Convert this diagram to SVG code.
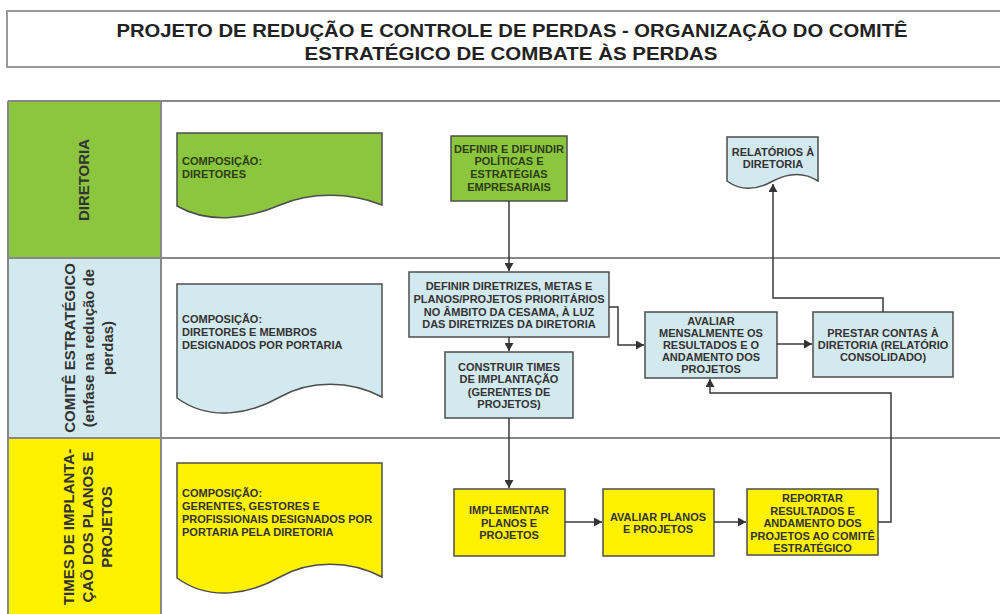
<svg xmlns="http://www.w3.org/2000/svg" width="1000" height="614" viewBox="0 0 1000 614">
<defs>
<marker id="arr" markerWidth="9" markerHeight="9" refX="8" refY="4.5" orient="auto" markerUnits="userSpaceOnUse">
<path d="M0,0 L8,4.5 L0,9 Z" fill="#333"/>
</marker>
<style>
.title{font-family:"Liberation Sans",Arial,sans-serif;font-weight:bold;font-size:19px;fill:#222;text-anchor:middle}
.lane{font-family:"Liberation Sans",Arial,sans-serif;font-weight:bold;font-size:15px;fill:#333;text-anchor:middle}
.grid{stroke:#888;stroke-width:2;fill:none}
.box{stroke:#4d4d4d;stroke-width:1.5}
.green{fill:#8cc63f}
.blue{fill:#d3e9f0}
.yellow{fill:#fff200}
.t{font-family:"Liberation Sans",Arial,sans-serif;font-weight:bold;font-size:11px;fill:#333;text-anchor:middle}
.tl{font-family:"Liberation Sans",Arial,sans-serif;font-weight:bold;font-size:11px;fill:#333}
.tg{fill:#2e3d18}
.conn{stroke:#383838;stroke-width:1.5;fill:none}
</style>
</defs>
<rect width="1000" height="614" fill="#fff"/>

<g id="title">
<rect x="7" y="11" width="1000" height="56" fill="#fff" stroke="#999" stroke-width="2"/>
<text class="title" x="512" y="37" textLength="791" lengthAdjust="spacingAndGlyphs">PROJETO DE REDUÇÃO E CONTROLE DE PERDAS - ORGANIZAÇÃO DO COMITÊ</text>
<text class="title" x="511" y="60" textLength="413" lengthAdjust="spacingAndGlyphs">ESTRATÉGICO DE COMBATE ÀS PERDAS</text>
</g>

<g id="lanes">
<rect x="8" y="101" width="153" height="157" class="green"/>
<rect x="8" y="258" width="153" height="180" class="blue"/>
<rect x="8" y="438" width="153" height="180" class="yellow"/>
<path class="grid" d="M8,101 H1000 M8,258 H1000 M8,438 H1000 M8,101 V614 M161,101 V614"/>
</g>

<g id="lane-diretoria">
<text class="lane" transform="translate(89,180) rotate(-90)">DIRETORIA</text>
</g>
<g id="lane-comite">
<text class="lane" transform="translate(75,348) rotate(-90)">COMITÊ ESTRATÉGICO</text>
<text class="lane" transform="translate(94,348) rotate(-90)">(enfase na redução de</text>
<text class="lane" transform="translate(113,348) rotate(-90)">perdas)</text>
</g>
<g id="lane-times">
<text class="lane" transform="translate(74,527) rotate(-90)">TIMES DE IMPLANTA-</text>
<text class="lane" transform="translate(93,527) rotate(-90)">ÇAÕ DOS PLANOS E</text>
<text class="lane" transform="translate(112,527) rotate(-90)">PROJETOS</text>
</g>

<g id="doc-diretores">
<path class="box green" d="M177,133 L382,133 L382,205 C350,192 310,192 280,205 C250,218 210,225 177,206 Z"/>
<text class="tl tg" x="182" y="165">COMPOSIÇÃO:</text>
<text class="tl tg" x="182" y="178">DIRETORES</text>
</g>

<g id="doc-comite">
<path class="box blue" d="M177,284 L382,284 L382,397 C350,380 310,380 280,397 C250,414 210,422 177,398 Z"/>
<text class="tl" x="182" y="323">COMPOSIÇÃO:</text>
<text class="tl" x="182" y="336">DIRETORES E MEMBROS</text>
<text class="tl" x="182" y="349">DESIGNADOS POR PORTARIA</text>
</g>

<g id="doc-times">
<path class="box yellow" d="M177,463 L382,463 L382,577 C350,560 310,560 280,577 C250,594 210,602 177,578 Z"/>
<text class="tl" x="182" y="497">COMPOSIÇÃO:</text>
<text class="tl" x="182" y="510">GERENTES, GESTORES E</text>
<text class="tl" x="182" y="523">PROFISSIONAIS DESIGNADOS POR</text>
<text class="tl" x="182" y="536">PORTARIA PELA DIRETORIA</text>
</g>

<g id="definir-politicas">
<rect x="451" y="136" width="116" height="65" class="box green"/>
<text class="t tg" x="509" y="153">DEFINIR E DIFUNDIR</text>
<text class="t tg" x="509" y="165">POLÍTICAS E</text>
<text class="t tg" x="509" y="178">ESTRATÉGIAS</text>
<text class="t tg" x="509" y="191">EMPRESARIAIS</text>
</g>

<g id="relatorios">
<path class="box blue" d="M727,137 L818,137 L818,181 C804,172 790,172 773,181 C757,190 742,192 727,181 Z"/>
<text class="t" x="773" y="156">RELATÓRIOS À</text>
<text class="t" x="773" y="168">DIRETORIA</text>
</g>

<g id="definir-diretrizes">
<rect x="409" y="272" width="200" height="65" class="box blue"/>
<text class="t" x="509" y="290">DEFINIR DIRETRIZES, METAS E</text>
<text class="t" x="509" y="303">PLANOS/PROJETOS PRIORITÁRIOS</text>
<text class="t" x="509" y="316">NO ÂMBITO DA CESAMA, À LUZ</text>
<text class="t" x="509" y="328">DAS DIRETRIZES DA DIRETORIA</text>
</g>

<g id="construir-times">
<rect x="445" y="352" width="128" height="66" class="box blue"/>
<text class="t" x="509" y="371">CONSTRUIR TIMES</text>
<text class="t" x="509" y="383">DE IMPLANTAÇÃO</text>
<text class="t" x="509" y="396">(GERENTES DE</text>
<text class="t" x="509" y="408">PROJETOS)</text>
</g>

<g id="avaliar-mensalmente">
<rect x="645" y="312" width="132" height="66" class="box blue"/>
<text class="t" x="711" y="325">AVALIAR</text>
<text class="t" x="711" y="337">MENSALMENTE OS</text>
<text class="t" x="711" y="349">RESULTADOS E O</text>
<text class="t" x="711" y="361">ANDAMENTO DOS</text>
<text class="t" x="711" y="373">PROJETOS</text>
</g>

<g id="prestar-contas">
<rect x="813" y="312" width="140" height="65" class="box blue"/>
<text class="t" x="883" y="337">PRESTAR CONTAS À</text>
<text class="t" x="883" y="349">DIRETORIA (RELATÓRIO</text>
<text class="t" x="883" y="361">CONSOLIDADO)</text>
</g>

<g id="implementar">
<rect x="454" y="489" width="111" height="67" class="box yellow"/>
<text class="t" x="509" y="514">IMPLEMENTAR</text>
<text class="t" x="509" y="527">PLANOS E</text>
<text class="t" x="509" y="539">PROJETOS</text>
</g>

<g id="avaliar-planos">
<rect x="603" y="489" width="111" height="67" class="box yellow"/>
<text class="t" x="658" y="521">AVALIAR PLANOS</text>
<text class="t" x="658" y="533">E PROJETOS</text>
</g>

<g id="reportar">
<rect x="747" y="489" width="131" height="66" class="box yellow"/>
<text class="t" x="812.5" y="502">REPORTAR</text>
<text class="t" x="812.5" y="515">RESULTADOS E</text>
<text class="t" x="812.5" y="527">ANDAMENTO DOS</text>
<text class="t" x="812.5" y="540">PROJETOS AO COMITÊ</text>
<text class="t" x="812.5" y="552">ESTRATÉGICO</text>
</g>

<g id="connectors">
<path class="conn" d="M509,201 V271" marker-end="url(#arr)"/>
<path class="conn" d="M509,337 V351" marker-end="url(#arr)"/>
<path class="conn" d="M509,418 V488" marker-end="url(#arr)"/>
<path class="conn" d="M609,307 H618 V345 H644" marker-end="url(#arr)"/>
<path class="conn" d="M777,344 H812" marker-end="url(#arr)"/>
<path class="conn" d="M883,312 V298 H773 V184" marker-end="url(#arr)"/>
<path class="conn" d="M565,522 H602" marker-end="url(#arr)"/>
<path class="conn" d="M714,522 H746" marker-end="url(#arr)"/>
<path class="conn" d="M878,522 H891 V393 H710 V379" marker-end="url(#arr)"/>
</g>
</svg>
